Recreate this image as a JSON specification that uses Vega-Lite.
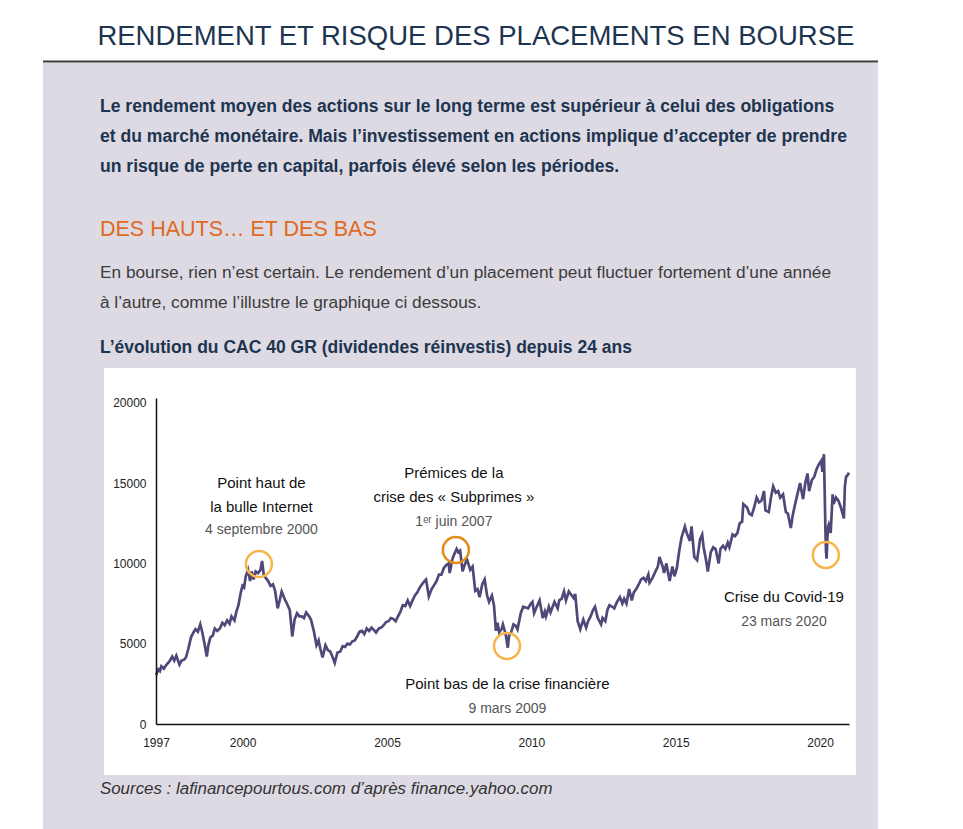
{
  "$schema": "https://vega.github.io/schema/vega-lite/v6.json",
  "width": 693,
  "height": 326,
  "autosize": {"type": "none"},
  "padding": {"left": 156, "top": 398, "right": 114, "bottom": 105},
  "background": "#ffffff",
  "config": {
    "view": {"stroke": null},
    "font": "Liberation Sans, Arial, sans-serif",
    "axis": {"labelFont": "Liberation Sans, Arial, sans-serif", "labelFontSize": 12, "labelColor": "#222222", "ticks": false, "grid": false, "domainColor": "#111111", "domainWidth": 1.5, "title": null}
  },
  "datasets": {
    "cac": [
      {"date":"1997-01-02","valeur":3050},{"date":"1997-02-01","valeur":3400},{"date":"1997-02-20","valeur":3300},{"date":"1997-03-10","valeur":3600},{"date":"1997-04-10","valeur":3450},{"date":"1997-05-15","valeur":3700},{"date":"1997-06-20","valeur":3900},{"date":"1997-07-25","valeur":4200},{"date":"1997-08-20","valeur":3950},{"date":"1997-09-15","valeur":4250},{"date":"1997-10-25","valeur":3700},{"date":"1997-11-20","valeur":3950},{"date":"1997-12-20","valeur":4000},
      {"date":"1998-01-15","valeur":4150},{"date":"1998-02-15","valeur":4700},{"date":"1998-03-20","valeur":5400},{"date":"1998-04-20","valeur":5700},{"date":"1998-05-15","valeur":5900},{"date":"1998-06-15","valeur":5750},{"date":"1998-07-15","valeur":6200},{"date":"1998-08-10","valeur":5700},{"date":"1998-09-10","valeur":4900},{"date":"1998-10-05","valeur":4200},{"date":"1998-10-25","valeur":4900},{"date":"1998-11-20","valeur":5400},{"date":"1998-12-20","valeur":5500},
      {"date":"1999-01-15","valeur":5950},{"date":"1999-02-15","valeur":5800},{"date":"1999-03-20","valeur":5950},{"date":"1999-04-20","valeur":6300},{"date":"1999-05-20","valeur":6150},{"date":"1999-06-20","valeur":6450},{"date":"1999-07-20","valeur":6250},{"date":"1999-08-15","valeur":6700},{"date":"1999-09-20","valeur":6450},{"date":"1999-10-15","valeur":7000},{"date":"1999-11-10","valeur":7400},{"date":"1999-12-10","valeur":8200},{"date":"1999-12-31","valeur":8600},
      {"date":"2000-01-20","valeur":8500},{"date":"2000-02-10","valeur":9200},{"date":"2000-03-10","valeur":9600},{"date":"2000-04-05","valeur":8900},{"date":"2000-04-25","valeur":9500},{"date":"2000-05-20","valeur":9000},{"date":"2000-06-15","valeur":9500},{"date":"2000-07-15","valeur":9400},{"date":"2000-08-15","valeur":9600},{"date":"2000-09-04","valeur":10150},{"date":"2000-09-25","valeur":9300},{"date":"2000-10-20","valeur":9100},{"date":"2000-11-20","valeur":8900},{"date":"2000-12-20","valeur":8600},
      {"date":"2001-01-20","valeur":8700},{"date":"2001-02-15","valeur":8300},{"date":"2001-03-20","valeur":7200},{"date":"2001-04-10","valeur":7600},{"date":"2001-05-10","valeur":8250},{"date":"2001-06-15","valeur":7800},{"date":"2001-07-15","valeur":7500},{"date":"2001-08-20","valeur":7100},{"date":"2001-09-21","valeur":5450},{"date":"2001-10-20","valeur":6500},{"date":"2001-11-20","valeur":6900},{"date":"2001-12-20","valeur":6700},
      {"date":"2002-01-20","valeur":6700},{"date":"2002-02-15","valeur":6600},{"date":"2002-03-15","valeur":6950},{"date":"2002-04-15","valeur":6750},{"date":"2002-05-15","valeur":6500},{"date":"2002-06-20","valeur":5800},{"date":"2002-07-24","valeur":4900},{"date":"2002-08-20","valeur":5200},{"date":"2002-09-10","valeur":4700},{"date":"2002-10-09","valeur":4150},{"date":"2002-11-15","valeur":4900},{"date":"2002-12-15","valeur":4600},
      {"date":"2003-01-15","valeur":4500},{"date":"2003-02-10","valeur":4200},{"date":"2003-03-12","valeur":3800},{"date":"2003-04-15","valeur":4450},{"date":"2003-05-20","valeur":4500},{"date":"2003-06-20","valeur":4850},{"date":"2003-07-20","valeur":4800},{"date":"2003-08-20","valeur":5000},{"date":"2003-09-20","valeur":4950},{"date":"2003-10-20","valeur":5150},{"date":"2003-11-20","valeur":5200},{"date":"2003-12-20","valeur":5450},
      {"date":"2004-01-20","valeur":5750},{"date":"2004-02-20","valeur":5800},{"date":"2004-03-20","valeur":5600},{"date":"2004-04-20","valeur":5950},{"date":"2004-05-20","valeur":5800},{"date":"2004-06-20","valeur":6000},{"date":"2004-07-20","valeur":5850},{"date":"2004-08-15","valeur":5700},{"date":"2004-09-20","valeur":5950},{"date":"2004-10-20","valeur":6000},{"date":"2004-11-20","valeur":6150},{"date":"2004-12-20","valeur":6350},
      {"date":"2005-01-20","valeur":6400},{"date":"2005-02-20","valeur":6600},{"date":"2005-03-20","valeur":6550},{"date":"2005-04-20","valeur":6400},{"date":"2005-05-20","valeur":6700},{"date":"2005-06-20","valeur":7000},{"date":"2005-07-20","valeur":7400},{"date":"2005-08-20","valeur":7350},{"date":"2005-09-20","valeur":7700},{"date":"2005-10-20","valeur":7350},{"date":"2005-11-20","valeur":7700},{"date":"2005-12-20","valeur":8000},
      {"date":"2006-01-20","valeur":8200},{"date":"2006-02-20","valeur":8500},{"date":"2006-03-20","valeur":8700},{"date":"2006-04-20","valeur":8900},{"date":"2006-05-10","valeur":9000},{"date":"2006-06-14","valeur":7950},{"date":"2006-07-20","valeur":8400},{"date":"2006-08-20","valeur":8650},{"date":"2006-09-20","valeur":8900},{"date":"2006-10-20","valeur":9300},{"date":"2006-11-20","valeur":9300},{"date":"2006-12-20","valeur":9700},
      {"date":"2007-01-20","valeur":9900},{"date":"2007-02-20","valeur":10000},{"date":"2007-03-05","valeur":9400},{"date":"2007-04-05","valeur":10200},{"date":"2007-04-25","valeur":10500},{"date":"2007-06-01","valeur":10900},{"date":"2007-06-20","valeur":10700},{"date":"2007-07-15","valeur":10800},{"date":"2007-08-15","valeur":9500},{"date":"2007-09-10","valeur":9900},{"date":"2007-10-10","valeur":10250},{"date":"2007-11-20","valeur":9600},{"date":"2007-12-20","valeur":9800},
      {"date":"2008-01-22","valeur":8300},{"date":"2008-02-20","valeur":8400},{"date":"2008-03-17","valeur":7900},{"date":"2008-04-20","valeur":8700},{"date":"2008-05-20","valeur":9000},{"date":"2008-06-20","valeur":8000},{"date":"2008-07-15","valeur":7600},{"date":"2008-08-20","valeur":8000},{"date":"2008-09-15","valeur":7400},{"date":"2008-10-10","valeur":5800},{"date":"2008-10-30","valeur":6300},{"date":"2008-11-20","valeur":5700},{"date":"2008-12-20","valeur":5900},
      {"date":"2009-01-06","valeur":6200},{"date":"2009-02-10","valeur":5600},{"date":"2009-03-09","valeur":4750},{"date":"2009-03-25","valeur":5500},{"date":"2009-04-20","valeur":5700},{"date":"2009-05-20","valeur":6200},{"date":"2009-06-20","valeur":6100},{"date":"2009-07-10","valeur":5900},{"date":"2009-08-20","valeur":6900},{"date":"2009-09-20","valeur":7300},{"date":"2009-10-20","valeur":7250},{"date":"2009-11-20","valeur":7200},{"date":"2009-12-20","valeur":7450},
      {"date":"2010-01-15","valeur":7600},{"date":"2010-02-05","valeur":6900},{"date":"2010-03-10","valeur":7300},{"date":"2010-04-15","valeur":7700},{"date":"2010-05-25","valeur":6600},{"date":"2010-06-20","valeur":7000},{"date":"2010-07-05","valeur":6700},{"date":"2010-08-10","valeur":7300},{"date":"2010-09-01","valeur":6950},{"date":"2010-10-20","valeur":7600},{"date":"2010-11-30","valeur":7200},{"date":"2010-12-20","valeur":7700},
      {"date":"2011-01-20","valeur":7800},{"date":"2011-02-18","valeur":8250},{"date":"2011-03-15","valeur":7700},{"date":"2011-04-20","valeur":8250},{"date":"2011-05-20","valeur":8050},{"date":"2011-06-20","valeur":7850},{"date":"2011-07-10","valeur":8100},{"date":"2011-08-10","valeur":6400},{"date":"2011-09-12","valeur":5900},{"date":"2011-10-20","valeur":6500},{"date":"2011-11-25","valeur":6000},{"date":"2011-12-20","valeur":6400},
      {"date":"2012-01-20","valeur":6700},{"date":"2012-02-20","valeur":7100},{"date":"2012-03-16","valeur":7300},{"date":"2012-04-20","valeur":6600},{"date":"2012-06-01","valeur":6200},{"date":"2012-06-20","valeur":6600},{"date":"2012-07-25","valeur":6400},{"date":"2012-08-20","valeur":7100},{"date":"2012-09-15","valeur":7400},{"date":"2012-10-20","valeur":7300},{"date":"2012-11-15","valeur":7200},{"date":"2012-12-20","valeur":7600},
      {"date":"2013-01-25","valeur":7900},{"date":"2013-02-25","valeur":7500},{"date":"2013-03-20","valeur":7800},{"date":"2013-04-18","valeur":7500},{"date":"2013-05-22","valeur":8400},{"date":"2013-06-24","valeur":7700},{"date":"2013-07-20","valeur":8200},{"date":"2013-08-20","valeur":8400},{"date":"2013-09-20","valeur":8700},{"date":"2013-10-20","valeur":9000},{"date":"2013-11-20","valeur":9100},{"date":"2013-12-20","valeur":8900},
      {"date":"2014-01-20","valeur":9300},{"date":"2014-02-04","valeur":8800},{"date":"2014-03-14","valeur":9100},{"date":"2014-04-20","valeur":9500},{"date":"2014-05-20","valeur":9800},{"date":"2014-06-10","valeur":10400},{"date":"2014-07-20","valeur":9800},{"date":"2014-08-07","valeur":9400},{"date":"2014-09-05","valeur":10000},{"date":"2014-10-16","valeur":8900},{"date":"2014-11-20","valeur":9800},{"date":"2014-12-16","valeur":9200},
      {"date":"2015-01-15","valeur":9700},{"date":"2015-02-15","valeur":10800},{"date":"2015-03-15","valeur":11600},{"date":"2015-04-27","valeur":12300},{"date":"2015-05-20","valeur":11900},{"date":"2015-06-29","valeur":11400},{"date":"2015-07-20","valeur":12300},{"date":"2015-08-24","valeur":10400},{"date":"2015-09-29","valeur":10200},{"date":"2015-11-05","valeur":11500},{"date":"2015-12-02","valeur":11800},{"date":"2015-12-20","valeur":11000},
      {"date":"2016-01-20","valeur":10200},{"date":"2016-02-11","valeur":9500},{"date":"2016-03-20","valeur":10700},{"date":"2016-04-20","valeur":11000},{"date":"2016-05-20","valeur":10900},{"date":"2016-06-27","valeur":10000},{"date":"2016-07-20","valeur":10900},{"date":"2016-08-20","valeur":11100},{"date":"2016-09-20","valeur":10900},{"date":"2016-10-20","valeur":11300},{"date":"2016-11-10","valeur":11000},{"date":"2016-12-20","valeur":11800},
      {"date":"2017-01-20","valeur":11700},{"date":"2017-02-20","valeur":11900},{"date":"2017-03-20","valeur":12500},{"date":"2017-04-20","valeur":12600},{"date":"2017-05-05","valeur":13700},{"date":"2017-06-20","valeur":13500},{"date":"2017-07-20","valeur":13100},{"date":"2017-08-20","valeur":13000},{"date":"2017-09-20","valeur":13500},{"date":"2017-10-20","valeur":14100},{"date":"2017-11-20","valeur":13800},{"date":"2017-12-20","valeur":13900},
      {"date":"2018-01-22","valeur":14500},{"date":"2018-02-09","valeur":13300},{"date":"2018-03-23","valeur":13200},{"date":"2018-04-20","valeur":14100},{"date":"2018-05-18","valeur":14800},{"date":"2018-06-20","valeur":14400},{"date":"2018-07-20","valeur":14500},{"date":"2018-08-15","valeur":14100},{"date":"2018-09-20","valeur":14300},{"date":"2018-10-25","valeur":13200},{"date":"2018-11-20","valeur":13100},{"date":"2018-12-27","valeur":12200},
      {"date":"2019-01-20","valeur":13000},{"date":"2019-02-20","valeur":13700},{"date":"2019-03-20","valeur":14300},{"date":"2019-04-23","valeur":15000},{"date":"2019-05-31","valeur":14000},{"date":"2019-06-28","valeur":15000},{"date":"2019-07-26","valeur":15600},{"date":"2019-08-15","valeur":14500},{"date":"2019-09-20","valeur":15200},{"date":"2019-10-20","valeur":15400},{"date":"2019-11-20","valeur":15900},{"date":"2019-12-20","valeur":16200},
      {"date":"2020-01-17","valeur":16400},{"date":"2020-01-31","valeur":15700},{"date":"2020-02-19","valeur":16800},{"date":"2020-02-28","valeur":14600},{"date":"2020-03-09","valeur":12000},{"date":"2020-03-16","valeur":10800},{"date":"2020-03-23","valeur":10300},{"date":"2020-04-08","valeur":12200},{"date":"2020-04-20","valeur":12400},{"date":"2020-05-14","valeur":11900},{"date":"2020-06-08","valeur":14300},{"date":"2020-06-20","valeur":13700},{"date":"2020-07-20","valeur":14100},{"date":"2020-08-20","valeur":13900},{"date":"2020-09-20","valeur":13500},{"date":"2020-10-28","valeur":12800},{"date":"2020-11-10","valeur":14800},{"date":"2020-11-25","valeur":15400},{"date":"2020-12-15","valeur":15500},{"date":"2020-12-31","valeur":15650}
    ],
    "cercles": [
      {"evenement":"Bulle Internet","date":"2000-07-26","valeur":9963},
      {"evenement":"Subprimes","date":"2007-05-22","valeur":10835},
      {"evenement":"Crise financière","date":"2009-02-27","valeur":4857},
      {"evenement":"Covid-19","date":"2020-03-14","valeur":10524}
    ],
    "notes": [
      {"date":"2000-08-27","valeur":14696,"texte":"Point haut de","type":"titre"},
      {"date":"2000-08-27","valeur":13201,"texte":"la bulle Internet","type":"titre"},
      {"date":"2000-08-27","valeur":11831,"texte":"4 septembre 2000","type":"date"},
      {"date":"2007-04-27","valeur":15318,"texte":"Prémices de la","type":"titre"},
      {"date":"2007-04-27","valeur":13824,"texte":"crise des « Subprimes »","type":"titre"},
      {"date":"2007-04-27","valeur":12329,"texte":"1ᵉʳ juin 2007","type":"date"},
      {"date":"2009-03-04","valeur":2179,"texte":"Point bas de la crise financière","type":"titre"},
      {"date":"2009-03-04","valeur":685,"texte":"9 mars 2009","type":"date"},
      {"date":"2018-10-01","valeur":7597,"texte":"Crise du Covid-19","type":"titre"},
      {"date":"2018-10-01","valeur":6102,"texte":"23 mars 2020","type":"date"}
    ]
  },
  "layer": [
    {
      "data": {"values": [{}]},
      "mark": {"type": "rect", "color": "#dddae3"},
      "encoding": {
        "x": {"datum": {"year": 1993, "month": 2, "date": 1}, "type": "temporal", "scale": {"domain": [{"year": 1997, "month": 1, "date": 1}, {"year": 2021, "month": 1, "date": 1}]}, "axis": {"values": [{"year": 1997, "month": 1, "date": 1}, {"year": 2000, "month": 1, "date": 1}, {"year": 2005, "month": 1, "date": 1}, {"year": 2010, "month": 1, "date": 1}, {"year": 2015, "month": 1, "date": 1}, {"year": 2020, "month": 1, "date": 1}], "format": "%Y", "labelPadding": 13, "labelAlign": "center", "zindex": 2}},
        "x2": {"datum": {"year": 2022, "month": 1, "date": 2}},
        "y": {"datum": 41160, "type": "quantitative", "scale": {"domain": [0, 20300], "nice": false, "zero": true}, "axis": {"values": [0, 5000, 10000, 15000, 20000], "format": "d", "labelPadding": 10, "zindex": 2}},
        "y2": {"datum": -7000}
      }
    },
    {
      "data": {"values": [{}]},
      "mark": {"type": "rect", "color": "#ffffff"},
      "encoding": {
        "x": {"datum": {"year": 1995, "month": 3, "date": 14}, "type": "temporal"},
        "x2": {"datum": {"year": 2021, "month": 3, "date": 29}},
        "y": {"datum": 22168, "type": "quantitative"},
        "y2": {"datum": -3176}
      }
    },
    {
      "data": {"values": [{}]},
      "mark": {"type": "rule", "color": "#3a3a3a", "strokeWidth": 2},
      "encoding": {
        "x": {"datum": {"year": 1993, "month": 2, "date": 1}, "type": "temporal"},
        "x2": {"datum": {"year": 2022, "month": 1, "date": 2}},
        "y": {"datum": 41250, "type": "quantitative"}
      }
    },
    {
      "data": {"name": "cac"},
      "mark": {"type": "line", "color": "#4f4879", "strokeWidth": 2.7},
      "encoding": {
        "x": {"field": "date", "type": "temporal"},
        "y": {"field": "valeur", "type": "quantitative"}
      }
    },
    {
      "data": {"name": "cercles"},
      "transform": [{"filter": "datum.evenement === 'Subprimes'"}],
      "mark": {"type": "point", "shape": "circle", "filled": false, "size": 676, "strokeWidth": 2.5, "color": "#e38b12", "opacity": 1},
      "encoding": {
        "x": {"field": "date", "type": "temporal"},
        "y": {"field": "valeur", "type": "quantitative"}
      }
    },
    {
      "data": {"name": "cercles"},
      "transform": [{"filter": "datum.evenement !== 'Subprimes'"}],
      "mark": {"type": "point", "shape": "circle", "filled": false, "size": 676, "strokeWidth": 2.5, "color": "#f6b54a", "opacity": 1},
      "encoding": {
        "x": {"field": "date", "type": "temporal"},
        "y": {"field": "valeur", "type": "quantitative"}
      }
    },
    {
      "data": {"name": "notes"},
      "transform": [{"filter": "datum.type === 'titre'"}],
      "mark": {"type": "text", "align": "center", "baseline": "alphabetic", "fontSize": 15, "color": "#111111"},
      "encoding": {
        "x": {"field": "date", "type": "temporal"},
        "y": {"field": "valeur", "type": "quantitative"},
        "text": {"field": "texte"}
      }
    },
    {
      "data": {"name": "notes"},
      "transform": [{"filter": "datum.type === 'date'"}],
      "mark": {"type": "text", "align": "center", "baseline": "alphabetic", "fontSize": 14, "color": "#555555"},
      "encoding": {
        "x": {"field": "date", "type": "temporal"},
        "y": {"field": "valeur", "type": "quantitative"},
        "text": {"field": "texte"}
      }
    },
    {
      "data": {"values": [{}]},
      "mark": {"type": "text", "align": "center", "baseline": "alphabetic", "fontSize": 27.5, "color": "#1d3550", "text": "RENDEMENT ET RISQUE DES PLACEMENTS EN BOURSE"},
      "encoding": {
        "x": {"datum": {"year": 2008, "month": 1, "date": 30}, "type": "temporal"},
        "y": {"datum": 42281, "type": "quantitative"}
      }
    },
    {
      "data": {"values": [{}]},
      "mark": {"type": "text", "align": "left", "baseline": "alphabetic", "fontSize": 17.6, "fontWeight": "bold", "color": "#1d3550", "lineHeight": 30, "text": ["Le rendement moyen des actions sur le long terme est supérieur à celui des obligations", "et du marché monétaire. Mais l’investissement en actions implique d’accepter de prendre", "un risque de perte en capital, parfois élevé selon les périodes."]},
      "encoding": {
        "x": {"datum": {"year": 1995, "month": 1, "date": 23}, "type": "temporal"},
        "y": {"datum": 38109, "type": "quantitative"}
      }
    },
    {
      "data": {"values": [{}]},
      "mark": {"type": "text", "align": "left", "baseline": "alphabetic", "fontSize": 21.5, "color": "#e0691c", "text": "DES HAUTS… ET DES BAS"},
      "encoding": {
        "x": {"datum": {"year": 1995, "month": 1, "date": 23}, "type": "temporal"},
        "y": {"datum": 30388, "type": "quantitative"}
      }
    },
    {
      "data": {"values": [{}]},
      "mark": {"type": "text", "align": "left", "baseline": "alphabetic", "fontSize": 17.3, "color": "#3c3c3c", "lineHeight": 30, "text": ["En bourse, rien n’est certain. Le rendement d’un placement peut fluctuer fortement d’une année", "à l’autre, comme l’illustre le graphique ci dessous."]},
      "encoding": {
        "x": {"datum": {"year": 1995, "month": 1, "date": 23}, "type": "temporal"},
        "y": {"datum": 27772, "type": "quantitative"}
      }
    },
    {
      "data": {"values": [{}]},
      "mark": {"type": "text", "align": "left", "baseline": "alphabetic", "fontSize": 17.5, "fontWeight": "bold", "color": "#1d3550", "text": "L’évolution du CAC 40 GR (dividendes réinvestis) depuis 24 ans"},
      "encoding": {
        "x": {"datum": {"year": 1995, "month": 1, "date": 23}, "type": "temporal"},
        "y": {"datum": 23102, "type": "quantitative"}
      }
    },
    {
      "data": {"values": [{}]},
      "mark": {"type": "text", "align": "left", "baseline": "alphabetic", "fontSize": 16.9, "fontStyle": "italic", "color": "#333333", "text": "Sources : lafinancepourtous.com d’après finance.yahoo.com"},
      "encoding": {
        "x": {"datum": {"year": 1995, "month": 1, "date": 23}, "type": "temporal"},
        "y": {"datum": -4359, "type": "quantitative"}
      }
    }
  ]
}
